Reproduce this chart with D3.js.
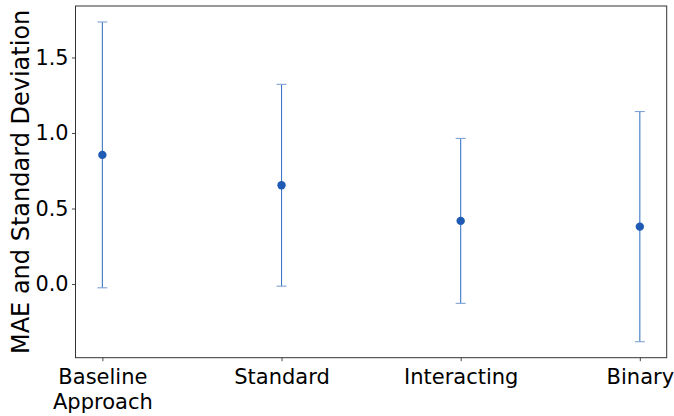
<!DOCTYPE html>
<html>
<head>
<meta charset="utf-8">
<script src="https://cdn.jsdelivr.net/npm/d3@7"></script>
<style>
  html, body { margin: 0; padding: 0; background: #fff; }
  svg { display: block; font-family: "DejaVu Sans", sans-serif; }
</style>
</head>
<body>
<svg id="chart" width="674" height="416"></svg>
<script>
// Methods compared, with mean absolute error and its standard deviation
const categories = [["Baseline", "Approach"], ["Standard"], ["Interacting"], ["Binary"]];
const maeValues = [0.855, 0.654, 0.418, 0.380];
const stdValues = [0.880, 0.668, 0.546, 0.762];
const yTicks = [0.0, 0.5, 1.0, 1.5];

const W = 674, H = 416;
const margin = { left: 75.5, right: 7.3, top: 6, bottom: 58.3 };
const plotW = W - margin.left - margin.right;
const plotH = H - margin.top - margin.bottom;

const svg = d3.select("#chart");
const g = svg.append("g").attr("transform", `translate(${margin.left},${margin.top})`);

const x = d3.scaleLinear().domain([-0.15, categories.length - 1 + 0.15]).range([0, plotW]);

const lows = maeValues.map((m, i) => m - stdValues[i]);
const highs = maeValues.map((m, i) => m + stdValues[i]);
const yMin = d3.min(lows), yMax = d3.max(highs);
const pad = (yMax - yMin) * 0.05;
const y = d3.scaleLinear().domain([yMin - pad, yMax + pad]).range([plotH, 0]);

// Y axis
const yAxis = g.append("g")
  .call(d3.axisLeft(y).tickValues(yTicks).tickFormat(d3.format(".1f")).tickSizeInner(3.5).tickSizeOuter(0).tickPadding(3.5));
yAxis.select(".domain").remove();
yAxis.selectAll(".tick line").attr("stroke", "#333").attr("stroke-width", 0.9);
yAxis.selectAll(".tick text").attr("font-size", "20.8px").attr("fill", "#000")
  .attr("font-family", "DejaVu Sans, sans-serif");

// X axis
const xAxis = g.append("g").attr("transform", `translate(0,${plotH})`)
  .call(d3.axisBottom(x).tickValues(d3.range(categories.length)).tickFormat("").tickSizeInner(3.5).tickSizeOuter(0));
xAxis.select(".domain").remove();
xAxis.selectAll(".tick line").attr("stroke", "#333").attr("stroke-width", 0.9);
xAxis.selectAll(".tick").each(function(d) {
  const t = d3.select(this).append("text")
    .attr("fill", "#000")
    .attr("font-size", "21px")
    .attr("font-family", "DejaVu Sans, sans-serif")
    .attr("text-anchor", "middle")
    .attr("y", 7);
  categories[d].forEach((line, k) => {
    t.append("tspan").attr("x", 0).attr("dy", k === 0 ? "0.93em" : "1.16em").text(line);
  });
});

// Frame
g.append("rect")
  .attr("x", 0).attr("y", 0).attr("width", plotW).attr("height", plotH)
  .attr("fill", "none").attr("stroke", "#333").attr("stroke-width", 1);

// Error bars
const barColor = "#3d78c6";
const cap = 5;
const bars = g.append("g").selectAll("g").data(maeValues).join("g");
bars.append("line")
  .attr("x1", (d, i) => x(i)).attr("x2", (d, i) => x(i))
  .attr("y1", (d, i) => y(lows[i])).attr("y2", (d, i) => y(highs[i]))
  .attr("stroke", barColor).attr("stroke-width", 1.1);
bars.append("line")
  .attr("x1", (d, i) => x(i) - cap).attr("x2", (d, i) => x(i) + cap)
  .attr("y1", (d, i) => y(highs[i])).attr("y2", (d, i) => y(highs[i]))
  .attr("stroke", "#7ea3d6").attr("stroke-width", 1.1);
bars.append("line")
  .attr("x1", (d, i) => x(i) - cap).attr("x2", (d, i) => x(i) + cap)
  .attr("y1", (d, i) => y(lows[i])).attr("y2", (d, i) => y(lows[i]))
  .attr("stroke", "#7ea3d6").attr("stroke-width", 1.1);

// Mean markers
bars.append("circle")
  .attr("cx", (d, i) => x(i)).attr("cy", d => y(d)).attr("r", 4.2)
  .attr("fill", "#1f5bb5");

// Y axis label
svg.append("text")
  .attr("transform", `translate(29,${margin.top + plotH / 2}) rotate(-90)`)
  .attr("text-anchor", "middle")
  .attr("font-size", "24px")
  .attr("font-family", "DejaVu Sans, sans-serif")
  .attr("fill", "#000")
  .text("MAE and Standard Deviation");
</script>
</body>
</html>
